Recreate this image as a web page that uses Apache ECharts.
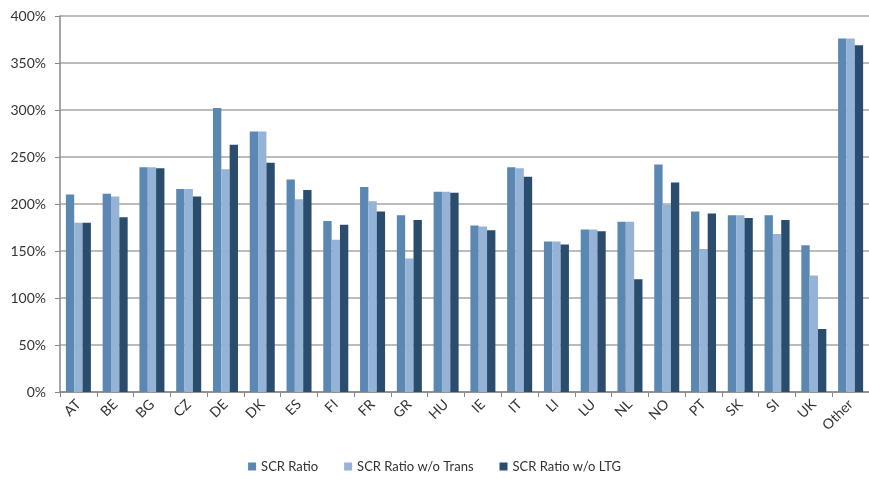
<!DOCTYPE html>
<html>
<head>
<meta charset="utf-8">
<script src="https://cdn.jsdelivr.net/npm/echarts@6/dist/echarts.min.js"></script>
<style>
  html, body { margin: 0; padding: 0; background: #fff; }
  #chart { width: 869px; height: 479px; }
</style>
</head>
<body>
<div id="chart"></div>
<script>
// country codes
var countries = ['AT', 'BE', 'BG', 'CZ', 'DE', 'DK', 'ES', 'FI', 'FR', 'GR', 'HU',
                 'IE', 'IT', 'LI', 'LU', 'NL', 'NO', 'PT', 'SK', 'SI', 'UK', 'Other'];

// values in percent
var scrRatio     = [210, 211, 239, 216, 302, 277, 226, 182, 218, 188, 213,
                    177, 239, 160, 173, 181, 242, 192, 188, 188, 156, 376];
var scrNoTrans   = [180, 208, 239, 216, 237, 277, 205, 162, 203, 142, 213,
                    176, 238, 160, 173, 181, 199, 152, 188, 168, 124, 376];
var scrNoLTG     = [180, 186, 238, 208, 263, 244, 215, 178, 192, 183, 212,
                    172, 229, 157, 171, 120, 223, 190, 185, 183, 67, 369];

var seriesNames = ['SCR Ratio', 'SCR Ratio w/o Trans', 'SCR Ratio w/o LTG'];
var colors = ['#5b87b3', '#95b3d7', '#2a4d6d'];

var chart = echarts.init(document.getElementById('chart'));

var txt = { fontFamily: 'Lato, "Open Sans", sans-serif', fontSize: 14, color: '#333' };

var option = {
  animation: false,
  grid: { left: 60, top: 16, width: 816, height: 376, containLabel: false },
  legend: {
    bottom: 1,
    left: 'center',
    itemWidth: 8,
    itemHeight: 8,
    itemGap: 26,
    icon: 'rect',
    textStyle: { fontFamily: txt.fontFamily, fontSize: 13, color: '#333' },
    data: seriesNames
  },
  xAxis: {
    type: 'category',
    data: countries,
    axisLine: { lineStyle: { color: '#888', width: 1.5 } },
    axisTick: { show: true, length: 5, lineStyle: { color: '#888' } },
    axisLabel: Object.assign({ rotate: 45, margin: 10 }, txt)
  },
  yAxis: {
    type: 'value',
    min: 0,
    max: 400,
    interval: 50,
    axisLine: { show: true, lineStyle: { color: '#888', width: 1.5 } },
    axisTick: { show: true, length: 5, lineStyle: { color: '#888' } },
    splitLine: { lineStyle: { color: '#a6a6a6', width: 1.5 } },
    axisLabel: Object.assign({ formatter: '{value}%', margin: 14 }, txt)
  },
  series: [
    { name: seriesNames[0], type: 'bar', data: scrRatio, itemStyle: { color: colors[0] },
      barGap: '0%', barCategoryGap: '32%' },
    { name: seriesNames[1], type: 'bar', data: scrNoTrans, itemStyle: { color: colors[1] } },
    { name: seriesNames[2], type: 'bar', data: scrNoLTG, itemStyle: { color: colors[2] } }
  ]
};

chart.setOption(option);
</script>
</body>
</html>
